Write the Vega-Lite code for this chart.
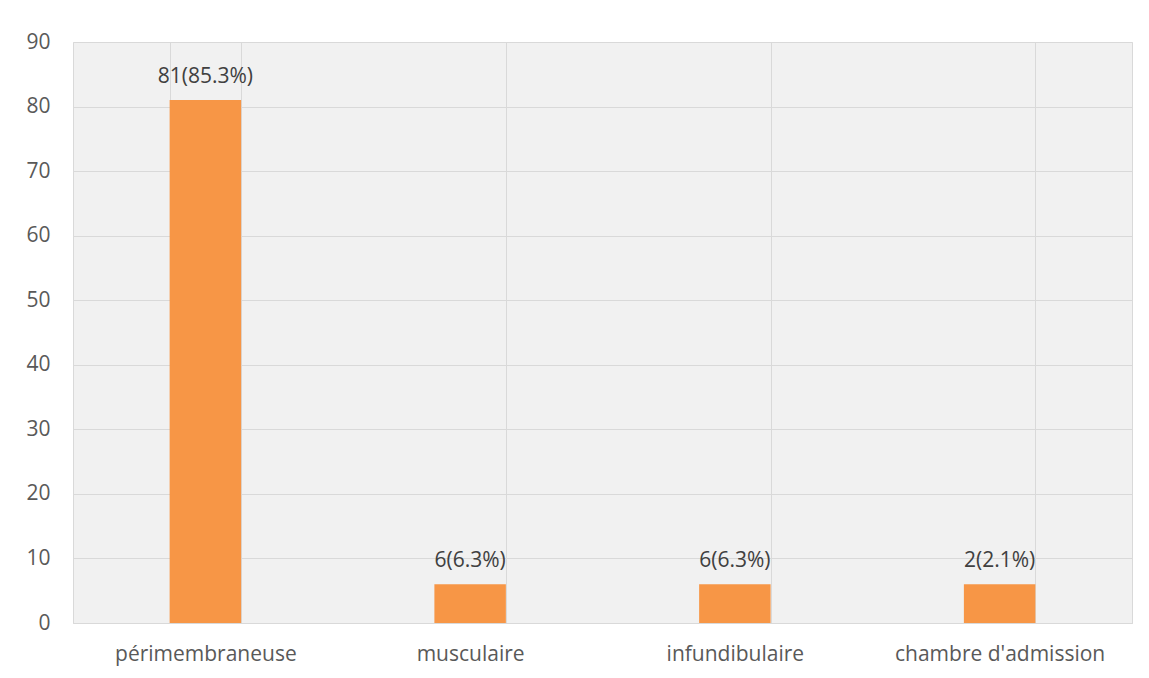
{
  "$schema": "https://vega.github.io/schema/vega-lite/v6.json",
  "autosize": "none",
  "width": 1059,
  "height": 581,
  "padding": {"left": 73, "top": 42, "right": 17, "bottom": 55},
  "background": "#ffffff",
  "config": {
    "font": "Open Sans",
    "view": {"stroke": "#d9d9d9", "strokeWidth": 1, "fill": "#f1f1f1"},
    "axis": {"labelFont": "Open Sans", "labelFontSize": 21, "labelColor": "#595959", "labelLimit": 0, "gridColor": "#d9d9d9", "gridWidth": 1, "domainColor": "#d9d9d9", "ticks": false, "title": null}
  },
  "data": {
    "values": [
      {"type": "périmembraneuse", "count": 81, "label": "81(85.3%)"},
      {"type": "musculaire", "count": 6, "label": "6(6.3%)"},
      {"type": "infundibulaire", "count": 6, "label": "6(6.3%)"},
      {"type": "chambre d'admission", "count": 6, "label": "2(2.1%)"}
    ]
  },
  "encoding": {
    "x": {
      "field": "type", "type": "nominal", "sort": null,
      "scale": {"paddingInner": 0.73, "paddingOuter": 0.365},
      "axis": {"labelAngle": 0, "grid": true, "tickBand": "extent", "domain": true, "labelPadding": 20, "labelLimit": 0}
    },
    "y": {
      "field": "count", "type": "quantitative",
      "scale": {"domain": [0, 90], "nice": false},
      "axis": {"values": [0,10,20,30,40,50,60,70,80,90], "domain": false, "grid": true, "labelPadding": 23}
    }
  },
  "layer": [
    {"mark": {"type": "bar", "color": "#f79646"}},
    {"mark": {"type": "text", "baseline": "alphabetic", "dy": -17, "fontSize": 21, "color": "#404040", "font": "Open Sans"},
     "encoding": {"text": {"field": "label"}}}
  ]
}
